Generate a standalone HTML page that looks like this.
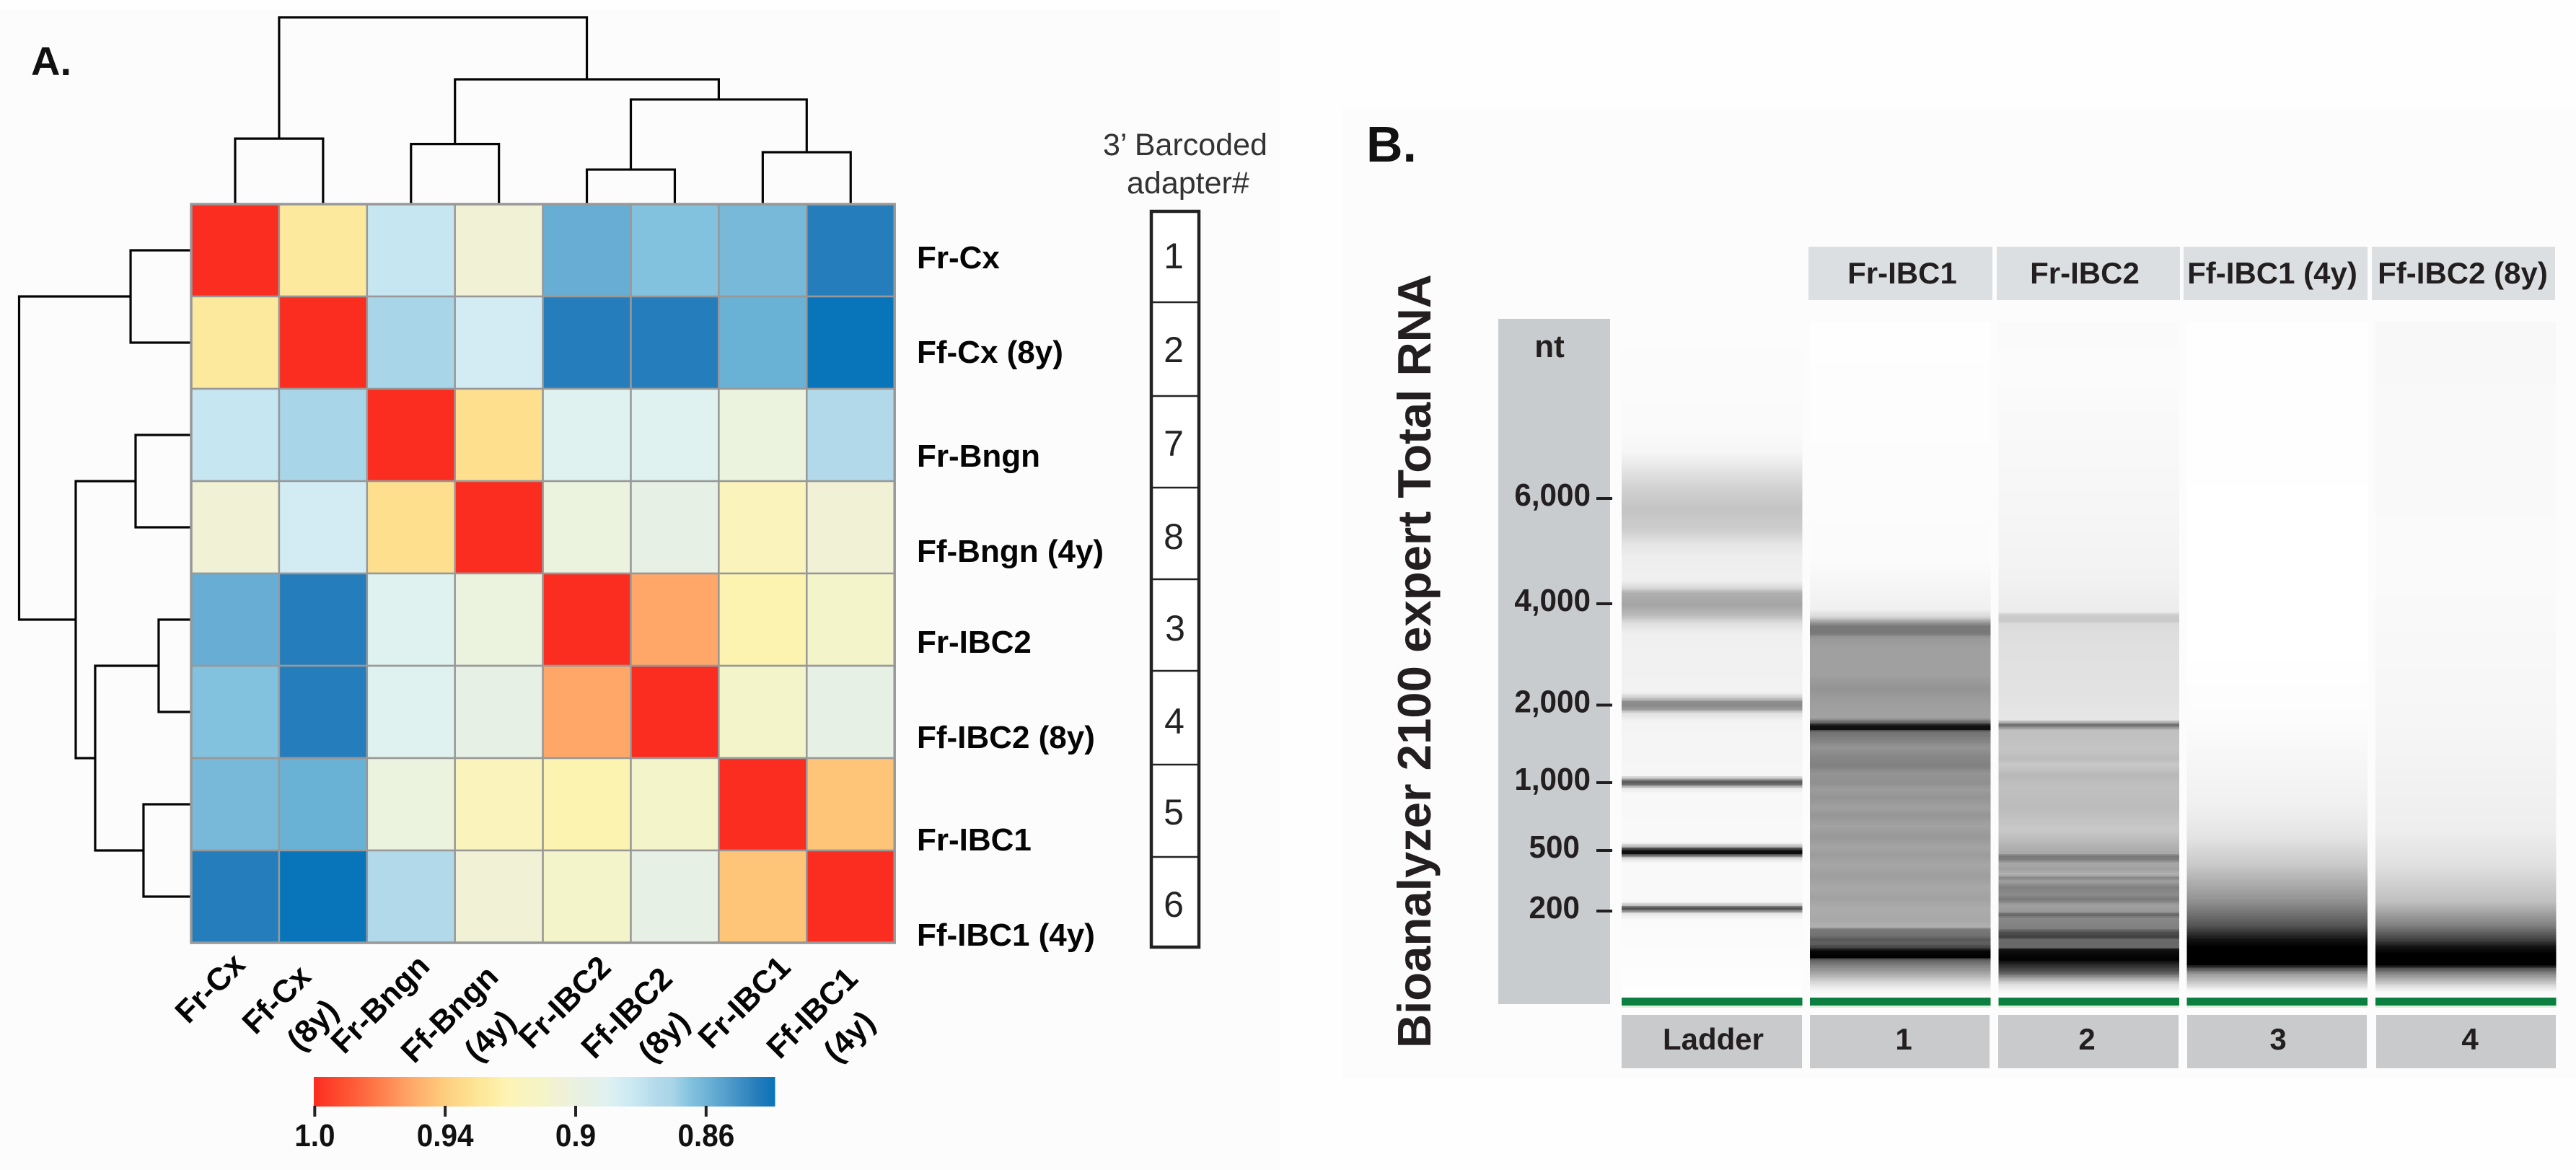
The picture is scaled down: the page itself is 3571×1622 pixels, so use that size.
<!DOCTYPE html>
<html lang="en">
<head>
<meta charset="utf-8">
<title>Heatmap and Bioanalyzer gel</title>
<style>
html,body{margin:0;padding:0;background:#fefefe;}
svg{display:block;}
text{font-family:"Liberation Sans",sans-serif;fill:#111;}
.b{font-weight:bold;}
.gel{font-weight:bold;fill:#231f20;font-size:42px;text-anchor:middle;}
.xl{font-weight:bold;font-size:44px;fill:#050505;}
.yl{font-weight:bold;font-size:44px;fill:#050505;}
.ad{font-size:50px;fill:#222;text-anchor:middle;}
</style>
</head>
<body>
<svg id="fig" xmlns="http://www.w3.org/2000/svg" width="3571" height="1622" viewBox="0 0 3571 1622">
  <rect x="0" y="13" width="1775" height="1609" fill="#fcfcfc"/>
  <rect x="1860" y="150" width="1711" height="1345" fill="#fcfcfc"/>

  <text class="b" x="43" y="104" font-size="56">A.</text>
  <text class="b" x="1894" y="224" font-size="70">B.</text>

  <g id="topDendro"></g>
  <g id="leftDendro"></g>
  <g id="heat"></g>

  <g>
    <text class="yl" x="1271" y="372">Fr-Cx</text>
    <text class="yl" x="1271" y="503">Ff-Cx (8y)</text>
    <text class="yl" x="1271" y="647">Fr-Bngn</text>
    <text class="yl" x="1271" y="779">Ff-Bngn (4y)</text>
    <text class="yl" x="1271" y="905">Fr-IBC2</text>
    <text class="yl" x="1271" y="1037">Ff-IBC2 (8y)</text>
    <text class="yl" x="1271" y="1179">Fr-IBC1</text>
    <text class="yl" x="1271" y="1311">Ff-IBC1 (4y)</text>
  </g>

  <g>
    <text class="xl" transform="translate(261,1421) rotate(-45)">Fr-Cx</text>
    <text class="xl" transform="translate(354,1436) rotate(-45)">Ff-Cx</text>
    <text class="xl" transform="translate(416,1459) rotate(-45)">(8y)</text>
    <text class="xl" transform="translate(477,1463) rotate(-45)">Fr-Bngn</text>
    <text class="xl" transform="translate(574,1476) rotate(-45)">Ff-Bngn</text>
    <text class="xl" transform="translate(662,1474) rotate(-45)">(4y)</text>
    <text class="xl" transform="translate(737,1456) rotate(-45)">Fr-IBC2</text>
    <text class="xl" transform="translate(824,1470) rotate(-45)">Ff-IBC2</text>
    <text class="xl" transform="translate(903,1475) rotate(-45)">(8y)</text>
    <text class="xl" transform="translate(986,1456) rotate(-45)">Fr-IBC1</text>
    <text class="xl" transform="translate(1081,1470) rotate(-45)">Ff-IBC1</text>
    <text class="xl" transform="translate(1160,1475) rotate(-45)">(4y)</text>
  </g>

  <g id="colorbar"></g>

  <g>
    <text x="1529" y="215" font-size="43" style="fill:#333">3’ Barcoded</text>
    <text x="1562" y="268" font-size="43" style="fill:#333">adapter#</text>
    <rect x="1596" y="293" width="66" height="1020" fill="#fff" stroke="#222" stroke-width="4.5"/>
    <path d="M1596 419H1662M1596 549H1662M1596 676H1662M1596 803H1662M1596 930H1662M1596 1060H1662M1596 1188H1662" stroke="#222" stroke-width="2.5" fill="none"/>
    <text class="ad" x="1627" y="372">1</text>
    <text class="ad" x="1627" y="502">2</text>
    <text class="ad" x="1627" y="632">7</text>
    <text class="ad" x="1627" y="761">8</text>
    <text class="ad" x="1629" y="888">3</text>
    <text class="ad" x="1628" y="1017">4</text>
    <text class="ad" x="1627" y="1143">5</text>
    <text class="ad" x="1627" y="1271">6</text>
  </g>

  <text class="b" transform="translate(1983,1453) rotate(-90)" font-size="65.3" style="fill:#231f20">Bioanalyzer 2100 expert Total RNA</text>

  <rect x="2077" y="442" width="155" height="950" fill="#c9ccce"/>
  <text class="gel" x="2148" y="495" style="font-size:44px">nt</text>
  <g id="ntAxis"></g>

  <g>
    <rect x="2507" y="342" width="255" height="74" fill="#dcdfe1"/>
    <rect x="2768" y="342" width="254" height="74" fill="#dcdfe1"/>
    <rect x="3027" y="342" width="255" height="74" fill="#dcdfe1"/>
    <rect x="3288" y="342" width="254" height="74" fill="#dcdfe1"/>
    <text class="gel" x="2637" y="393">Fr-IBC1</text>
    <text class="gel" x="2890" y="393">Fr-IBC2</text>
    <text class="gel" x="3150" y="393">Ff-IBC1 (4y)</text>
    <text class="gel" x="3414" y="393">Ff-IBC2 (8y)</text>
  </g>

  <g id="lanes"></g>

  <g>
    <rect x="2248" y="1407" width="250" height="74" fill="#c9cacb"/>
    <rect x="2509" y="1407" width="249" height="74" fill="#c9cacb"/>
    <rect x="2770" y="1407" width="250" height="74" fill="#c9cacb"/>
    <rect x="3032" y="1407" width="249" height="74" fill="#c9cacb"/>
    <rect x="3294" y="1407" width="249" height="74" fill="#c9cacb"/>
    <text class="gel" x="2375" y="1455">Ladder</text>
    <text class="gel" x="2639" y="1455">1</text>
    <text class="gel" x="2893" y="1455">2</text>
    <text class="gel" x="3158" y="1455">3</text>
    <text class="gel" x="3424" y="1455">4</text>
  </g>
</svg>

<script>
// ---------- heatmap data ----------
const rowNames = ['Fr-Cx','Ff-Cx (8y)','Fr-Bngn','Ff-Bngn (4y)','Fr-IBC2','Ff-IBC2 (8y)','Fr-IBC1','Ff-IBC1 (4y)'];
const correlation = [
  [1,.9278,.8811,.9052,.8585,.8649,.862,.8444],
  [.9278,1,.8705,.8861,.8444,.8444,.8592,.8387],
  [.8811,.8705,1,.9334,.891,.891,.9009,.8748],
  [.9052,.8861,.9334,1,.9009,.8967,.9179,.9052],
  [.8585,.8444,.891,.9009,1,.956,.922,.9094],
  [.8649,.8444,.891,.8967,.956,1,.9094,.8967],
  [.862,.8592,.9009,.9179,.922,.9094,1,.944],
  [.8444,.8387,.8748,.9052,.9094,.8967,.944,1]
];
const scaleValues = [.8387,.8444,.8585,.8592,.862,.8649,.8705,.8748,.8811,.8861,.891,.8967,.9009,.9052,.9094,.9179,.922,.9278,.9334,.944,.956,.977,1];
const scaleColors = ['#0874ba','#267dbb','#68aed4','#6ab1d6','#78b9d9','#82c2de','#a9d5e8','#b2d9ea','#c6e6f1','#d3ecf4','#e0f2ef','#e6f0e4','#ebf2de','#f1f1d6','#f3f4c9','#fbf3bc','#fdf3b0','#fde99d','#fddf8e','#fec477','#ffa768','#ff6a3f','#fb2d20'];
const legendTicks = [1.0,.94,.9,.86];
const legendLabels = ['1.0','0.94','0.9','0.86'];
const legendMin = .8387;

// dendrogram merges: child A, child B, height (leaves are 0-7, new nodes from 8)
const colMergeA = [0,2,4,6,10,9,8];
const colMergeB = [1,3,5,7,11,12,13];
const colMergeH = [.351,.322,.185,.278,.56,.668,1];
const rowMergeA = [0,2,4,6,10,9,8];
const rowMergeB = [1,3,5,7,11,12,13];
const rowMergeH = [.352,.323,.189,.277,.558,.671,1];

// ---------- gel data: migration time (s) against band signal (0 white .. 255 black) ----------
const ntLabels = ['6,000','4,000','2,000','1,000','500','200'];
const ntTime = [69.1,54.5,40.45,29.7,20.3,11.9];
const laneNames = ['ladder','lane-1','lane-2','lane-3','lane-4'];
const ladderTime = [93.6,78.2,75.4,73.2,70.1,67.7,64.8,62.7,61,57.7,56.7,56,54.3,53,51.7,50.2,42.2,41.4,40.9,40.4,39.9,39.3,38.2,30.7,30.2,29.9,29.6,29.3,28.9,28.2,21.4,20.8,20.5,20.2,19.9,19.6,19.2,18.5,13.2,12.7,12.4,12.2,11.9,11.5,10.7,0];
const ladderSignal = [3,5,10,26,48,59,50,26,17,15,39,79,90,71,31,15,13,55,111,119,101,31,11,9,79,159,167,111,23,7,6,79,191,243,239,143,31,6,6,63,167,183,111,23,5,1];
const lane1Time = [93.6,60.2,53.7,52.7,52,51.4,50.4,49.8,48.2,44.7,42.7,40.7,38.7,38,37.6,37.1,36.8,35.7,34.6,33.4,32,31,29.7,28.7,27.7,26.2,25.2,23.7,22.2,20.7,19.7,18.2,16.7,15.2,13.7,12.2,10.7,9.7,9.4,8.4,8,7.4,6.8,6.4,5.5,5.1,4.4,3.2,2,1,0];
const lane1Signal = [1,4,15,39,95,135,135,103,95,95,107,97,93,159,239,239,143,127,107,119,127,107,111,99,107,95,105,93,103,91,99,89,97,87,93,83,87,79,133,143,167,159,191,247,255,159,127,87,39,11,2];
const lane2Time = [93.6,86.2,68.2,58.2,53.4,52.9,52.2,51.6,48.2,42.2,38.4,38,37.7,37.4,37,34.2,33,32.2,30.7,29.2,26.2,23.2,22.2,19.9,19.5,19,18.5,17.7,17,16.5,16,15.2,14.2,13.5,12.7,11.8,11.4,10.9,9.5,9,8.3,7.9,6.9,6.5,5.2,4.4,3.4,2.6,1.8,.8,0];
const lane2Signal = [5,4,9,13,19,51,55,35,31,29,25,95,143,119,63,59,67,55,71,63,67,55,63,87,135,127,87,95,75,119,95,127,115,135,95,103,159,119,127,175,191,151,151,239,255,211,167,95,35,9,2];
const lane3Time = [93.6,48.2,38.2,26.5,22.2,18.2,13.2,9.9,7.9,6.9,4.5,3.9,3.2,1.5,.9,0];
const lane3Signal = [1,0,3,15,27,55,111,170,238,255,255,170,102,34,7,1];
const lane4Time = [93.6,58.2,38.2,23.2,18.2,13.2,9.9,7.9,6.9,5.9,4.4,3.9,3.2,1.5,.7,0];
const lane4Signal = [7,5,9,17,31,63,127,191,238,255,255,170,119,34,7,1];
const laneTimes = [ladderTime,lane1Time,lane2Time,lane3Time,lane4Time];
const laneSignals = [ladderSignal,lane1Signal,lane2Signal,lane3Signal,lane4Signal];

// ---------- helpers ----------
const NS = 'http://www.w3.org/2000/svg';
function mk(parent, tag, props){
  const e = document.createElementNS(NS, tag);
  for (const k in props) e.setAttribute(k, props[k]);
  parent.appendChild(e);
  return e;
}
function hexRgb(h){ return [parseInt(h.slice(1,3),16),parseInt(h.slice(3,5),16),parseInt(h.slice(5,7),16)]; }
function colorFor(v){
  if (v <= scaleValues[0]) return scaleColors[0];
  for (let i = 1; i < scaleValues.length; i++){
    if (v <= scaleValues[i]){
      const f = (v - scaleValues[i-1]) / (scaleValues[i] - scaleValues[i-1]);
      const a = hexRgb(scaleColors[i-1]), b = hexRgb(scaleColors[i]);
      return 'rgb(' + a.map((c,j) => Math.round(c + (b[j]-c)*f)).join(',') + ')';
    }
  }
  return scaleColors[scaleColors.length-1];
}

// ---------- heatmap axes ----------
const heatLeft = 265, heatTop = 283, cellW = 121.9, cellH = 128;
const colX = i => heatLeft + i*cellW;
const rowY = i => heatTop + i*cellH;
const heat = document.getElementById('heat');
correlation.forEach((row, r) => {
  row.forEach((v, c) => {
    const cell = mk(heat, 'rect', {x:colX(c), y:rowY(r), width:cellW, height:cellH, fill:colorFor(v), stroke:'#989898', 'stroke-width':2.5});
    
    
    const tip = mk(cell, 'title', {});
    tip.textContent = rowNames[r] + ' / ' + rowNames[c] + ': ' + v;
  });
});
const heatFrame = mk(heat, 'rect', {x:colX(0), y:rowY(0), width:8*cellW, height:8*cellH, fill:'none', stroke:'#989898', 'stroke-width':3.5});



// ---------- dendrograms ----------
function drawTree(group, mergeA, mergeB, mergeH, leafPos, heightPos, horizontal){
  const pos = [], ht = [];
  for (let i = 0; i < 8; i++){ pos.push(leafPos(i)); ht.push(0); }
  mergeA.forEach((a, i) => {
    const b = mergeB[i], h = mergeH[i];
    const p = heightPos(h), pa = heightPos(ht[a]), pb = heightPos(ht[b]);
    const d = horizontal
      ? 'M' + pos[a] + ' ' + pa + 'V' + p + 'H' + pos[b] + 'V' + pb
      : 'M' + pa + ' ' + pos[a] + 'H' + p + 'V' + pos[b] + 'H' + pb;
    const link = mk(group, 'path', {d:d, fill:'none', stroke:'#050505', 'stroke-width':3.2});
    
    
    pos.push((pos[a]+pos[b])/2);
    ht.push(h);
  });
}
drawTree(document.getElementById('topDendro'), colMergeA, colMergeB, colMergeH,
  i => colX(i) + cellW/2, h => heatTop - 259*h, true);
drawTree(document.getElementById('leftDendro'), rowMergeA, rowMergeB, rowMergeH,
  i => rowY(i) + cellH/2, h => heatLeft - 238.5*h, false);

// ---------- colour legend ----------
const barLeft = 435, barRight = 1074, barTop = 1493, barBottom = 1534;
const tickFrac = i => (i * 0.283) + 0.0005;
function barXfromValue(v){
  for (let i = 1; i < legendTicks.length; i++){
    if (v >= legendTicks[i]){
      const f = (legendTicks[i-1]-v)/(legendTicks[i-1]-legendTicks[i]);
      return barLeft + (tickFrac(i-1) + f*(tickFrac(i)-tickFrac(i-1)))*(barRight-barLeft);
    }
  }
  const n = legendTicks.length-1;
  const f = (legendTicks[n]-v)/(legendTicks[n]-legendMin);
  return barLeft + (tickFrac(n) + f*(1-tickFrac(n)))*(barRight-barLeft);
}
function valueFromBarFrac(t){
  for (let i = 1; i < legendTicks.length; i++){
    if (t <= tickFrac(i)){
      return legendTicks[i-1] + (t-tickFrac(i-1))/(tickFrac(i)-tickFrac(i-1))*(legendTicks[i]-legendTicks[i-1]);
    }
  }
  const n = legendTicks.length-1;
  return legendTicks[n] + (t-tickFrac(n))/(1-tickFrac(n))*(legendMin-legendTicks[n]);
}
const cbar = document.getElementById('colorbar');
for (let x = barLeft; x < barRight; x += 3){
  const seg = mk(cbar, 'rect', {x:x, y:barTop, width:3.5, height:barBottom-barTop, fill:colorFor(valueFromBarFrac((x-barLeft)/(barRight-barLeft)))});
  
  
}
legendTicks.forEach((v, i) => {
  const x = barXfromValue(v) + 1;
  const tick = mk(cbar, 'rect', {x:x-2, y:barBottom-1, width:4, height:15, fill:'#222'});
  
  
  const label = mk(cbar, 'text', {transform:'translate(' + x + ',1589) scale(.92,1)', 'text-anchor':'middle', 'font-size':44, 'font-weight':'bold'});
  
  
  label.textContent = legendLabels[i];
});

// ---------- gel ----------
const gelBottom = 1382, gelTop = 446, pxPerSecond = 10;
const timeY = t => gelBottom - t*pxPerSecond;
const yTime = y => (gelBottom - y)/pxPerSecond;
function signalAt(times, signals, t){
  if (t >= times[0]) return signals[0];
  for (let i = 1; i < times.length; i++){
    if (t >= times[i]){
      const f = (times[i-1]-t)/(times[i-1]-times[i]);
      return signals[i-1] + f*(signals[i]-signals[i-1]);
    }
  }
  return signals[signals.length-1];
}
const lanesG = document.getElementById('lanes');
const laneX = i => 2248 + i*261.2;
const laneW = 250.5;
laneNames.forEach((name, i) => {
  const g = mk(lanesG, 'g', {'shape-rendering':'crispEdges'});
  
  
  for (let y = gelTop; y < gelBottom; y += 2){
    const gray = Math.round(255 - signalAt(laneTimes[i], laneSignals[i], yTime(y+1)));
    const row = mk(g, 'rect', {x:laneX(i), y:y, width:laneW, height:2, fill:'rgb('+gray+','+gray+','+gray+')'});
    
    
  }
  const pale = mk(g, 'rect', {x:laneX(i), y:1394, width:laneW, height:3, fill:'#dcefdf'});
  
  
  const green = mk(g, 'rect', {x:laneX(i), y:1383, width:laneW, height:11, fill:'#0a7f3f'});
  
  
});

// size axis
const ntAxis = document.getElementById('ntAxis');
ntLabels.forEach((lab, i) => {
  const y = timeY(ntTime[i]);
  const tick = mk(ntAxis, 'rect', {x:2213, y:y-2, width:22, height:4, fill:'#231f20'});
  
  
  const t = mk(ntAxis, 'text', {transform:'translate(' + (lab.length > 3 ? 2205 : 2190) + ',' + (y+10) + ') scale(.96,1)', 'text-anchor':'end', 'font-size':44, 'font-weight':'bold'});
  t.style.fill = '#231f20';
  
  
  t.textContent = lab;
});
</script>
</body>
</html>
